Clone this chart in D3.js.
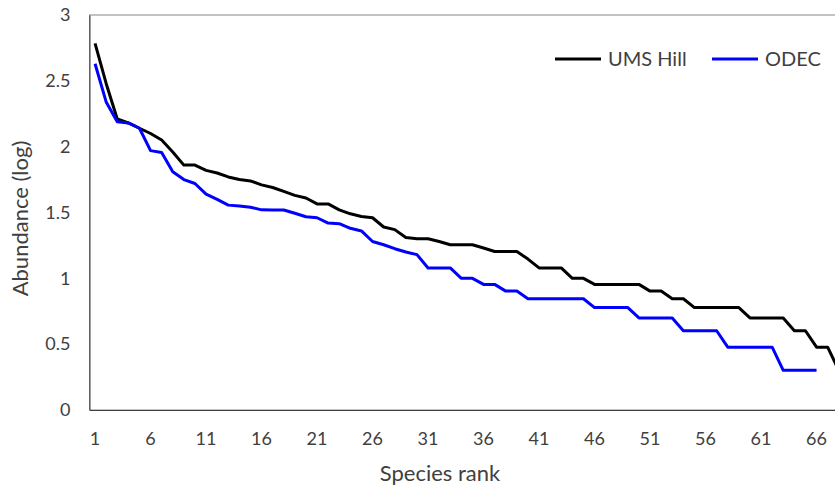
<!DOCTYPE html>
<html>
<head>
<meta charset="utf-8">
<script src="https://cdn.jsdelivr.net/npm/d3@7"></script>
<style>
  body { margin: 0; background: #fff; }
  svg { display: block; font-family: Lato, "Open Sans", sans-serif; }
</style>
</head>
<body>
<script>
const width = 835;
const height = 488;
const marginTop = 15;
const marginLeft = 89.5;
const plotBottom = 410;
const bandStep = 11.1;

// species rank abundances (log10)
const umsHill = [2.785, 2.48, 2.21, 2.18, 2.14, 2.10, 2.05, 1.96, 1.86, 1.86,
  1.82, 1.80, 1.77, 1.75, 1.74, 1.71, 1.69, 1.66, 1.63, 1.61,
  1.565, 1.565, 1.52, 1.49, 1.47, 1.46, 1.39, 1.37, 1.31, 1.30,
  1.30, 1.28, 1.255, 1.255, 1.255, 1.23, 1.204, 1.204, 1.204, 1.146,
  1.079, 1.079, 1.079, 1.0, 1.0, 0.954, 0.954, 0.954, 0.954, 0.954,
  0.903, 0.903, 0.845, 0.845, 0.778, 0.778, 0.778, 0.778, 0.778, 0.699,
  0.699, 0.699, 0.699, 0.602, 0.602, 0.477, 0.477, 0.301];

const odec = [2.63, 2.34, 2.19, 2.18, 2.14, 1.97, 1.955, 1.81, 1.75, 1.72,
  1.64, 1.60, 1.556, 1.55, 1.54, 1.52, 1.519, 1.519, 1.494, 1.468,
  1.46, 1.42, 1.415, 1.38, 1.36, 1.28, 1.255, 1.225, 1.20, 1.18,
  1.079, 1.079, 1.079, 1.0, 1.0, 0.954, 0.954, 0.903, 0.903, 0.845,
  0.845, 0.845, 0.845, 0.845, 0.845, 0.778, 0.778, 0.778, 0.778, 0.699,
  0.699, 0.699, 0.699, 0.602, 0.602, 0.602, 0.602, 0.477, 0.477, 0.477,
  0.477, 0.477, 0.301, 0.301, 0.301, 0.301];

const ranks = d3.range(1, umsHill.length + 1);
const xTicks = d3.range(1, 67, 5);
const yTicks = [0, 0.5, 1, 1.5, 2, 2.5, 3];

const series = [
  {name: "UMS Hill", values: umsHill, color: "#000000"},
  {name: "ODEC", values: odec, color: "#0000ff"}
];

const x = d3.scaleBand()
  .domain(ranks)
  .range([marginLeft, marginLeft + ranks.length * bandStep]);

const y = d3.scaleLinear()
  .domain([0, 3])
  .range([plotBottom, marginTop]);

const svg = d3.select("body").append("svg")
  .attr("width", width)
  .attr("height", height);

// plot frame
svg.append("rect")
  .attr("x", marginLeft)
  .attr("y", marginTop)
  .attr("width", ranks.length * bandStep)
  .attr("height", plotBottom - marginTop)
  .attr("fill", "none")
  .attr("stroke", "#868686")
  .attr("stroke-width", 1);

const xAxis = svg.append("g")
  .attr("transform", `translate(0,${plotBottom})`)
  .call(d3.axisBottom(x).tickValues(xTicks).tickSize(0).tickPadding(22));
xAxis.select(".domain").attr("stroke", "#404040");

const yAxis = svg.append("g")
  .attr("transform", `translate(${marginLeft},0)`)
  .call(d3.axisLeft(y).tickValues(yTicks).tickFormat(d3.format("")).tickSize(0).tickPadding(19));
yAxis.select(".domain").attr("stroke", "#404040");

svg.selectAll(".tick text")
  .attr("font-family", "Lato, 'Open Sans', sans-serif")
  .attr("font-size", 18)
  .attr("fill", "#404040");

svg.append("text")
  .text("Species rank")
  .attr("x", 440)
  .attr("y", 481)
  .attr("text-anchor", "middle")
  .attr("font-size", 22)
  .attr("fill", "#404040");

svg.append("text")
  .text("Abundance (log)")
  .attr("transform", `translate(28,${(marginTop + plotBottom) / 2 + 6}) rotate(-90)`)
  .attr("text-anchor", "middle")
  .attr("font-size", 22)
  .attr("fill", "#404040");

const line = d3.line()
  .x((d, i) => x(ranks[i]) + x.bandwidth() / 2)
  .y(d => y(d));

svg.append("g")
  .selectAll("path")
  .data(series)
  .enter().append("path")
    .attr("d", d => line(d.values))
    .attr("fill", "none")
    .attr("stroke", d => d.color)
    .attr("stroke-width", 3)
    .attr("stroke-linejoin", "round");

// legend
const legend = svg.append("g");
const legendX = [555, 712];
series.forEach((s, i) => {
  legend.append("line")
    .attr("x1", legendX[i])
    .attr("x2", legendX[i] + 46)
    .attr("y1", 59)
    .attr("y2", 59)
    .attr("stroke", s.color)
    .attr("stroke-width", 3);
  legend.append("text")
    .text(s.name)
    .attr("x", legendX[i] + 53)
    .attr("y", 66)
    .attr("font-size", 20)
    .attr("fill", "#404040");
});
</script>
</body>
</html>
